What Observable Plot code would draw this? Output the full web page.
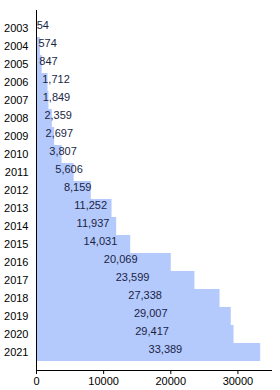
<!DOCTYPE html>
<html><head><meta charset="utf-8">
<script src="https://cdn.jsdelivr.net/npm/d3@7"></script>
<script src="https://cdn.jsdelivr.net/npm/@observablehq/plot@0.6"></script>
<style>body{margin:0;background:#fff;}svg{font-family:"Liberation Sans",Arial,sans-serif;}</style>
</head><body><div id="chart"></div>
<script>
const years = ["2003","2004","2005","2006","2007","2008","2009","2010","2011","2012","2013","2014","2015","2016","2017","2018","2019","2020","2021"];
const values = [54,574,847,1712,1849,2359,2697,3807,5606,8159,11252,11937,14031,20069,23599,27338,29007,29417,33389];
const xTicks = [0,10000,20000,30000];
const data = years.map((y,i)=>({year:y, value:values[i]}));
const fmt = d3.format(",");
const chart = Plot.plot({
  width:280, height:390,
  marginLeft:36, marginRight:9, marginTop:10, marginBottom:20,
  style:{fontFamily:"Liberation Sans, Arial, sans-serif", fontSize:"11px", background:"#fff", color:"#000"},
  x:{domain:[0,35000], ticks:xTicks, tickFormat:"d", tickSize:4, tickPadding:3, label:null},
  y:{domain:years, padding:0, tickSize:0, tickPadding:8, label:null},
  marks:[
    Plot.barX(data,{y:"year", x:"value", fill:"#b4c9fc"}),
    Plot.text(data,{y:"year", x:d=>d.value/2, text:d=>fmt(d.value), textAnchor:"start", dy:-3, fill:"#1a1f45", fontSize:11}),
    Plot.ruleX([0],{stroke:"#000"}),
    Plot.frame({anchor:"bottom", stroke:"#000"})
  ]
});
document.getElementById("chart").appendChild(chart);
</script></body></html>
